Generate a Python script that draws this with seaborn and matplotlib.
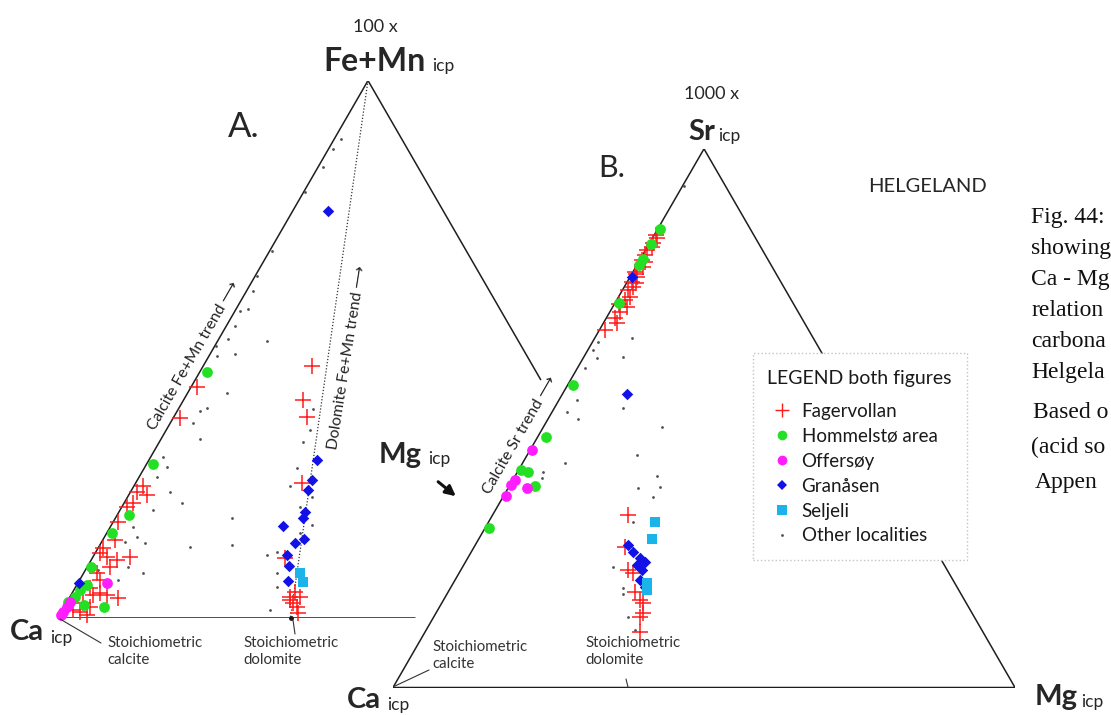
import numpy as np
import pandas as pd
import matplotlib.pyplot as plt
import seaborn as sns
from matplotlib.lines import Line2D
from matplotlib.patches import Rectangle

sns.set_theme(style="white")
plt.rcParams['font.family'] = ['Lato', 'DejaVu Sans']

W, H = 1111, 715
SQ3 = np.sqrt(3) / 2

# ---- data: weight-% Mg and weight-% of the top component (Ca = rest) ----
# A. Ca - Mg - 100x(Fe+Mn)
a_fag_mg = [1.0, 1.1, 1.5, 1.1, 2.9, 1.4, 0.9, 0.8, 2.0, 0.8, 0.8, 2.3, 4.2, 6.0, 3.7, 2.1, 3.3, 2.4,
            3.5, 4.5, 5.8, 7.9, 4.2, 3.0, 4.4, 1.7, 2.7,
            17.6, 19.2, 21.5, 26.8, 31.1, 35.5, 37.1, 36.5, 37.6, 38.3, 35.8, 35.8]
a_fag_top = [42.9, 37.1, 24.4, 23.3, 22.9, 21.4, 20.5, 17.8, 14.5, 13.0, 12.0, 11.3, 10.7, 11.3, 9.4, 8.3, 7.0, 5.5,
             4.2, 4.6, 4.2, 3.6, 2.0, 1.0, 0.5, 1.4, 2.7,
             46.8, 40.6, 37.3, 25.1, 11.1, 3.8, 3.8, 2.7, 2.0, 0.8, 3.3, 4.8]
a_hom_mg = [1.1, 1.1, 1.9, 0.8, 0.6, 1.6, 1.0, 0.8, 3.0, 6.4, 0.2]
a_hom_top = [45.8, 28.5, 19.1, 15.8, 9.4, 6.1, 5.1, 3.8, 2.3, 2.0, 2.9]
a_off_mg = [4.7, 0.3, 0.5, 0.5, 0.3]
a_off_top = [6.4, 1.0, 2.0, 2.9, 0.5]
a_gra_mg = [5.7, 27.1, 28.1, 28.4, 30.0, 30.2, 27.7, 31.3, 32.3, 31.1, 32.4, 33.7, 0.2]
a_gra_top = [75.7, 29.4, 25.7, 23.8, 19.7, 18.6, 17.1, 13.9, 14.7, 11.7, 9.6, 6.8, 6.4]
a_sel_mg = [34.9, 36.2]
a_sel_top = [8.3, 6.6]
a_oth_mg = [1.1, 0.7, 0.8, 0.2, 0.4, 0.3, 1.1, 0.8, 1.9, 1.4, 1.5, 8.0, 0.3,
            1.3, 4.0, 6.3, 4.5, 3.7, 3.6, 6.2, 2.0, 3.5, 2.8, 6.3, 9.3, 5.3, 18.8, 3.6, 5.2,
            7.1, 3.8, 14.7, 6.6, 9.6, 2.0, 6.2, 21.3,
            21.8, 23.1, 23.2, 24.6, 25.2, 29.7, 28.7, 32.3, 31.1, 29.2, 27.9, 31.2, 32.5, 33.5]
a_oth_top = [89.2, 87.3, 83.9, 79.3, 68.3, 63.6, 60.8, 57.1, 57.4, 54.3, 51.8, 51.5, 50.5,
             48.7, 49.0, 41.9, 39.1, 38.4, 36.3, 33.3, 29.8, 28.1, 26.2, 23.4, 21.4, 20.1, 18.6, 16.9, 15.0,
             13.9, 14.1, 13.2, 9.4, 8.3, 8.9, 7.0, 13.5,
             38.8, 35.0, 32.6, 27.9, 24.4, 22.5, 20.6, 17.3, 15.8, 12.2, 11.7, 8.3, 5.7, 1.4]

# B. Ca - Mg - 1000xSr
b_fag_mg = [0.3, 0.7, 0.7, 0.3, 0.4, 0.3, 1.1, 0.3, 1.1, 0.8, 1.4, 0.9, 1.8, 1.3, 2.3, 1.6, 1.4, 2.2, 0.9,
            0.5, 1.0, 0.6, 1.5, 0.7,
            21.8, 24.2, 26.9, 27.9, 30.1, 31.6, 32.3, 33.2, 33.3, 34.6]
b_fag_top = [84.0, 83.5, 81.8, 81.2, 80.3, 79.4, 78.1, 77.2, 76.2, 75.3, 74.4, 73.8, 72.5, 72.0, 70.7, 69.7, 68.6, 67.7, 66.4,
             82.6, 79.0, 76.8, 75.0, 71.2,
             32.0, 26.1, 21.8, 21.3, 17.7, 16.2, 15.7, 13.1, 13.8, 10.3]
b_hom_mg = [0.3, 0.3, 0.4, 0.3, 0.6, 0.8, 1.4, 0.3, 1.7, 4.1, 0.6]
b_hom_top = [85.1, 82.4, 79.6, 78.5, 71.4, 56.2, 46.5, 40.4, 40.0, 37.4, 29.6]
b_off_mg = [0.3, 0.3, 0.2, 0.3, 3.0]
b_off_top = [44.1, 38.5, 37.6, 35.6, 37.0]
b_gra_mg = [10.4, 0.3, 24.5, 26.0, 27.7, 28.9, 27.9, 29.1, 29.7, 31.2]
b_gra_top = [54.5, 76.2, 26.5, 25.2, 24.0, 23.3, 22.7, 21.8, 20.0, 18.7]
b_sel_mg = [26.8, 27.8, 31.1, 31.8]
b_sel_top = [30.7, 27.6, 19.4, 18.1]
b_oth_mg = [0.3, 0.9, 0.8, 2.2, 6.3, 6.0, 1.2, 2.9, 2.4, 4.8, 19.1, 6.8, 4.1, 4.5, 17.6,
            22.8, 20.9, 24.3, 24.1, 23.2, 24.2, 27.7, 28.3, 31.2, 33.6, 11.0]
b_oth_top = [93.1, 64.2, 62.7, 61.2, 61.4, 64.9, 59.3, 53.4, 51.2, 49.9, 48.4, 41.7, 40.0, 38.9, 43.2,
             39.3, 37.0, 37.2, 35.4, 30.7, 22.4, 18.5, 17.4, 13.1, 10.7, 51.9]

DOLOMITE_MG = 37.5  # wt-% Mg in stoichiometric dolomite (Ca+Mg basis)

LOCALITIES = ['Other localities', 'Fagervollan', 'Hommelstø area', 'Offersøy', 'Granåsen', 'Seljeli']
LEGEND_ORDER = ['Fagervollan', 'Hommelstø area', 'Offersøy', 'Granåsen', 'Seljeli', 'Other localities']
STYLE = {
    'Fagervollan': dict(marker='+', color='#ff1a1a', linewidth=1.1),
    'Hommelstø area': dict(marker='o', color='#24e024', linewidth=0),
    'Offersøy': dict(marker='o', color='#ff1cff', linewidth=0),
    'Granåsen': dict(marker='D', color='#1212e8', linewidth=0),
    'Seljeli': dict(marker='s', color='#1ab4ea', linewidth=0),
    'Other localities': dict(marker='o', color='#505050', linewidth=0),
}
SIZE = {'Fagervollan': 140, 'Hommelstø area': 60, 'Offersøy': 60, 'Granåsen': 34,
        'Seljeli': 46, 'Other localities': 4}


def tern(mg, top):
    mg = np.asarray(mg) / 100
    top = np.asarray(top) / 100
    return mg + top / 2, top * SQ3


def frame(groups):
    parts = []
    for name, (mg, top) in groups.items():
        x, y = tern(mg, top)
        parts.append(pd.DataFrame({'x': x, 'y': y, 'locality': name}))
    return pd.concat(parts, ignore_index=True)


df_a = frame({'Fagervollan': (a_fag_mg, a_fag_top), 'Hommelstø area': (a_hom_mg, a_hom_top),
              'Offersøy': (a_off_mg, a_off_top), 'Granåsen': (a_gra_mg, a_gra_top),
              'Seljeli': (a_sel_mg, a_sel_top), 'Other localities': (a_oth_mg, a_oth_top)})
df_b = frame({'Fagervollan': (b_fag_mg, b_fag_top), 'Hommelstø area': (b_hom_mg, b_hom_top),
              'Offersøy': (b_off_mg, b_off_top), 'Granåsen': (b_gra_mg, b_gra_top),
              'Seljeli': (b_sel_mg, b_sel_top), 'Other localities': (b_oth_mg, b_oth_top)})

fig = plt.figure(figsize=(W / 100, H / 100), dpi=100)
fig.patch.set_facecolor('white')


def put(x, y, s, **kw):
    kw.setdefault('ha', 'center')
    kw.setdefault('va', 'baseline')
    fig.text(x / W, 1 - y / H, s, **kw)


def seg(x0, y0, x1, y1, **kw):
    kw.setdefault('color', '#333333')
    kw.setdefault('lw', 0.8)
    fig.add_artist(Line2D([x0 / W, x1 / W], [1 - y0 / H, 1 - y1 / H], transform=fig.transFigure, **kw))


# ternary frames: Ca at lower left, Mg at lower right, top component at apex
ax_a = fig.add_axes([58 / W, (H - 617.5) / H, 620 / W, 620 * SQ3 / H])
ax_b = fig.add_axes([393 / W, (H - 687.5) / H, 622 / W, 622 * SQ3 / H])
for ax in (ax_a, ax_b):
    ax.set_xlim(0, 1)
    ax.set_ylim(0, SQ3)
    ax.set_axis_off()
    ax.patch.set_alpha(0)

line_kw = dict(color='#1e1e1e', lw=1.1, zorder=1)
# A: truncated triangle
ax_a.plot([0, 0.5], [0, SQ3], **line_kw)
ax_a.plot([0.5, 1 - 0.443 / 2], [SQ3, 0.443 * SQ3], **line_kw)
ax_a.plot([0, 0.576], [0, 0], **line_kw)
ax_a.plot([0.5, DOLOMITE_MG / 100], [SQ3, 0], color='#333333', lw=0.9, ls=(0, (1, 1.5)), zorder=1)
ax_a.plot([DOLOMITE_MG / 100], [0], 'o', color='k', ms=2.5, clip_on=False)
# B: full triangle
ax_b.plot([0, 0.5, 1, 0], [0, SQ3, 0, 0], **line_kw)

for ax, df in ((ax_a, df_a), (ax_b, df_b)):
    for name in LOCALITIES:
        sub = df[df['locality'] == name]
        sns.scatterplot(data=sub, x='x', y='y', ax=ax, s=SIZE[name], legend=False,
                        clip_on=False, zorder=3, **STYLE[name])
    ax.set_xlim(0, 1)
    ax.set_ylim(0, SQ3)

# ---- labels ----
put(375, 32, '100 x', size=13)
put(375, 71, 'Fe+Mn', size=23, weight='bold')
put(432, 71, 'icp', size=12.5, ha='left')
put(244, 137, 'A.', size=25)
put(612, 177, 'B.', size=22)
put(712, 99, '1000 x', size=13)
put(702, 140, 'Sr', size=21, weight='bold')
put(718, 141, 'icp', size=12.5, ha='left')
put(927, 192, 'HELGELAND', size=14.5)

put(400, 463, 'Mg', size=21, weight='bold')
put(428, 464, 'icp', size=12.5, ha='left')
ax_a.annotate('', xy=(458 / W, 1 - 498 / H), xytext=(436 / W, 1 - 480 / H),
              xycoords='figure fraction', textcoords='figure fraction', annotation_clip=False,
              arrowprops=dict(arrowstyle='-|>', lw=2.2, color='#111111', mutation_scale=15))

put(27, 640, 'Ca', size=21, weight='bold')
put(50, 643, 'icp', size=12.5, ha='left')
put(364, 708, 'Ca', size=21, weight='bold')
put(387, 710, 'icp', size=12.5, ha='left')
put(1056, 705, 'Mg', size=21, weight='bold')
put(1081, 707, 'icp', size=12.5, ha='left')

small = dict(size=10.8, ha='left', va='top', linespacing=1.3, color='#333333')
put(107, 636, 'Stoichiometric\ncalcite', **small)
put(243, 636, 'Stoichiometric\ndolomite', **small)
put(432, 640, 'Stoichiometric\ncalcite', **small)
put(585, 636, 'Stoichiometric\ndolomite', **small)
seg(60, 619, 101, 643)
seg(293, 620, 295, 634)
seg(395, 686, 429, 670)
seg(626, 679, 628, 687)

trend = dict(size=11.3, ha='center', va='center', rotation_mode='anchor', color='#222222')
put(194, 356, 'Calcite Fe+Mn trend \u27f6', rotation=60, **trend)
put(348, 358, 'Dolomite Fe+Mn trend \u27f6', rotation=81, **trend)
put(520, 435, 'Calcite Sr trend \u27f6', rotation=60, **trend)

# ---- legend box ----
fig.add_artist(Rectangle((753 / W, 1 - 560 / H), 214 / W, 207 / H, transform=fig.transFigure,
                         facecolor='white', edgecolor='#c4c4c4', lw=1, ls=':', zorder=4))
put(767, 384, 'LEGEND both figures', size=14, ha='left', color='#1a1a1a', zorder=6)
handles = []
for name in LEGEND_ORDER:
    st = STYLE[name]
    ms = {'Fagervollan': 10, 'Other localities': 2}.get(name, 7)
    if st['marker'] == 'D':
        ms = 5.5
    handles.append(Line2D([], [], ls='none', marker=st['marker'], color=st['color'],
                          markersize=ms, markeredgewidth=1.0 if st['marker'] == '+' else 0))
leg = fig.legend(handles=handles, labels=LEGEND_ORDER,
                 loc='upper left', bbox_to_anchor=(766 / W, 1 - 403 / H), frameon=False,
                 fontsize=13.5, handlelength=1.7, handletextpad=0.2, labelspacing=0.42,
                 borderpad=0, borderaxespad=0, labelcolor='#1a1a1a')
leg.set_zorder(6)

# ---- caption column, cut by the page edge ----
serif = dict(size=17, ha='left', family='Liberation Serif', color='#111111')
cap_lines = ['Fig. 44:', 'showing', 'Ca - Mg', 'relation', 'carbona', 'Helgela']
for i, txt in enumerate(cap_lines):
    put(1031, 223 + 31 * i, txt, **serif)
put(1033, 418, 'Based o', **serif)
put(1031, 453, '(acid so', **serif)
put(1035, 488, 'Appen', **serif)

plt.savefig('out.png', dpi=100, facecolor='white')
